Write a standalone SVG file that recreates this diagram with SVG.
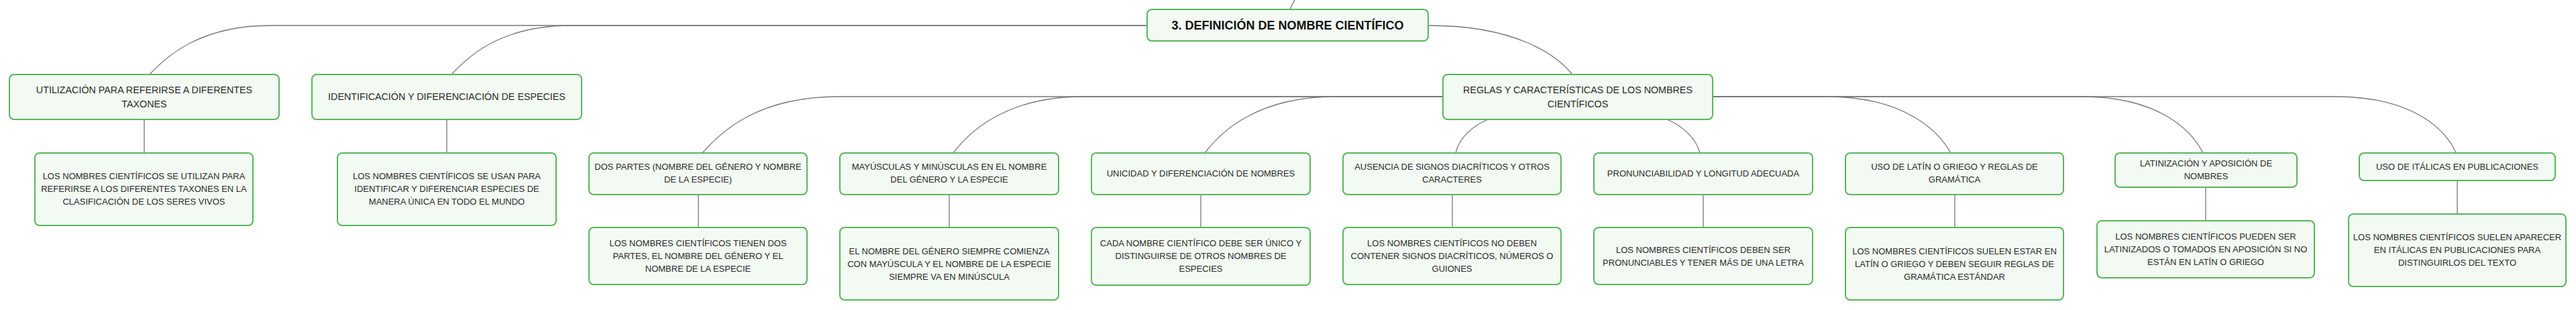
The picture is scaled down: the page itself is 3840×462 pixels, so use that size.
<svg xmlns="http://www.w3.org/2000/svg" width="3840" height="462" viewBox="0 0 3840 462">
<style>
.bg{fill:#ffffff}
.node rect{fill:#f3faf3;stroke:#58b65c;stroke-width:2}
.node text{font-family:"Liberation Sans",Arial,sans-serif;fill:#2a2a2a;text-anchor:middle}
.root text{font-size:18px;font-weight:bold;fill:#111111}
.l1 text{font-size:14.3px}
.l2 text{font-size:13px}
.leaf text{font-size:13px}
.conn path{fill:none;stroke:#777777;stroke-width:1.3}
</style>
<rect class="bg" x="0" y="0" width="3840" height="462"/>
<g id="connectors" class="conn">
<path d="M1923,14 Q1926,7 1931,-2"/>
<path d="M1710,38 H404 C300,38 250,82 224,110"/>
<path d="M1710,38 H852 C748,38 700,82 674,110"/>
<path d="M2129,38 C2260,38 2320,82 2343,110"/>
<path d="M215,178 V228"/>
<path d="M666,178 V228"/>
<path d="M2151,144 H1250 C1130,144 1075,196 1047,228"/>
<path d="M2151,144 H1615 C1500,144 1445,196 1421,228"/>
<path d="M2151,144 H1990 C1875,144 1820,196 1796,228"/>
<path d="M2218,178 C2195,188 2175,205 2170,228"/>
<path d="M2485,178 C2508,188 2528,205 2534,228"/>
<path d="M2553,144 H2723 C2840,144 2890,196 2908,228"/>
<path d="M2553,144 H3103 C3220,144 3268,196 3284,228"/>
<path d="M2553,144 H3482 C3600,144 3648,196 3661,228"/>
<path d="M1041,290 V339"/>
<path d="M1415,290 V339"/>
<path d="M1790,290 V339"/>
<path d="M2165,290 V339"/>
<path d="M2539,290 V339"/>
<path d="M2914,290 V339"/>
<path d="M3288,279 V329"/>
<path d="M3663,269 V319"/>
</g>
<g id="n-root" class="node root">
<rect x="1710" y="14" width="419" height="47" rx="7"/>
<text x="1919.5" y="43.5">3. DEFINICIÓN DE NOMBRE CIENTÍFICO</text>
</g>
<g id="n-utilizacion" class="node l1">
<rect x="14" y="111" width="402" height="67" rx="7"/>
<text x="215" y="139">UTILIZACIÓN PARA REFERIRSE A DIFERENTES</text>
<text x="215" y="160">TAXONES</text>
</g>
<g id="n-utilizacion-desc" class="node leaf">
<rect x="52" y="228" width="325" height="108" rx="7"/>
<text x="214.5" y="266.6">LOS NOMBRES CIENTÍFICOS SE UTILIZAN PARA</text>
<text x="214.5" y="285.6">REFERIRSE A LOS DIFERENTES TAXONES EN LA</text>
<text x="214.5" y="304.6">CLASIFICACIÓN DE LOS SERES VIVOS</text>
</g>
<g id="n-identificacion" class="node l1">
<rect x="465" y="111" width="402" height="67" rx="7"/>
<text x="666" y="149">IDENTIFICACIÓN Y DIFERENCIACIÓN DE ESPECIES</text>
</g>
<g id="n-identificacion-desc" class="node leaf">
<rect x="503" y="228" width="326" height="108" rx="7"/>
<text x="666" y="266.6">LOS NOMBRES CIENTÍFICOS SE USAN PARA</text>
<text x="666" y="285.6">IDENTIFICAR Y DIFERENCIAR ESPECIES DE</text>
<text x="666" y="304.6">MANERA ÚNICA EN TODO EL MUNDO</text>
</g>
<g id="n-reglas" class="node l1">
<rect x="2151" y="111" width="402" height="67" rx="7"/>
<text x="2352" y="139">REGLAS Y CARACTERÍSTICAS DE LOS NOMBRES</text>
<text x="2352" y="160">CIENTÍFICOS</text>
</g>
<g id="n-dospartes" class="node l2">
<rect x="878" y="228" width="325" height="62" rx="7"/>
<text x="1040.5" y="252.6">DOS PARTES (NOMBRE DEL GÉNERO Y NOMBRE</text>
<text x="1040.5" y="271.6">DE LA ESPECIE)</text>
</g>
<g id="n-dospartes-desc" class="node leaf">
<rect x="878" y="339" width="325" height="85" rx="7"/>
<text x="1040.5" y="366.6">LOS NOMBRES CIENTÍFICOS TIENEN DOS</text>
<text x="1040.5" y="385.6">PARTES, EL NOMBRE DEL GÉNERO Y EL</text>
<text x="1040.5" y="404.6">NOMBRE DE LA ESPECIE</text>
</g>
<g id="n-mayusculas" class="node l2">
<rect x="1252" y="228" width="326" height="62" rx="7"/>
<text x="1415" y="252.6">MAYÚSCULAS Y MINÚSCULAS EN EL NOMBRE</text>
<text x="1415" y="271.6">DEL GÉNERO Y LA ESPECIE</text>
</g>
<g id="n-mayusculas-desc" class="node leaf">
<rect x="1252" y="339" width="326" height="108" rx="7"/>
<text x="1415" y="378.6">EL NOMBRE DEL GÉNERO SIEMPRE COMIENZA</text>
<text x="1415" y="397.6">CON MAYÚSCULA Y EL NOMBRE DE LA ESPECIE</text>
<text x="1415" y="416.6">SIEMPRE VA EN MINÚSCULA</text>
</g>
<g id="n-unicidad" class="node l2">
<rect x="1627" y="228" width="326" height="62" rx="7"/>
<text x="1790" y="262.6">UNICIDAD Y DIFERENCIACIÓN DE NOMBRES</text>
</g>
<g id="n-unicidad-desc" class="node leaf">
<rect x="1627" y="339" width="326" height="86" rx="7"/>
<text x="1790" y="366.6">CADA NOMBRE CIENTÍFICO DEBE SER ÚNICO Y</text>
<text x="1790" y="385.6">DISTINGUIRSE DE OTROS NOMBRES DE</text>
<text x="1790" y="404.6">ESPECIES</text>
</g>
<g id="n-ausencia" class="node l2">
<rect x="2002" y="228" width="325" height="62" rx="7"/>
<text x="2164.5" y="252.6">AUSENCIA DE SIGNOS DIACRÍTICOS Y OTROS</text>
<text x="2164.5" y="271.6">CARACTERES</text>
</g>
<g id="n-ausencia-desc" class="node leaf">
<rect x="2002" y="339" width="325" height="85" rx="7"/>
<text x="2164.5" y="366.6">LOS NOMBRES CIENTÍFICOS NO DEBEN</text>
<text x="2164.5" y="385.6">CONTENER SIGNOS DIACRÍTICOS, NÚMEROS O</text>
<text x="2164.5" y="404.6">GUIONES</text>
</g>
<g id="n-pronunciabilidad" class="node l2">
<rect x="2376" y="228" width="326" height="62" rx="7"/>
<text x="2539" y="262.6">PRONUNCIABILIDAD Y LONGITUD ADECUADA</text>
</g>
<g id="n-pronunciabilidad-desc" class="node leaf">
<rect x="2376" y="339" width="326" height="85" rx="7"/>
<text x="2539" y="376.6">LOS NOMBRES CIENTÍFICOS DEBEN SER</text>
<text x="2539" y="395.6">PRONUNCIABLES Y TENER MÁS DE UNA LETRA</text>
</g>
<g id="n-latin" class="node l2">
<rect x="2751" y="228" width="325" height="62" rx="7"/>
<text x="2913.5" y="252.6">USO DE LATÍN O GRIEGO Y REGLAS DE</text>
<text x="2913.5" y="271.6">GRAMÁTICA</text>
</g>
<g id="n-latin-desc" class="node leaf">
<rect x="2751" y="339" width="325" height="108" rx="7"/>
<text x="2913.5" y="378.6">LOS NOMBRES CIENTÍFICOS SUELEN ESTAR EN</text>
<text x="2913.5" y="397.6">LATÍN O GRIEGO Y DEBEN SEGUIR REGLAS DE</text>
<text x="2913.5" y="416.6">GRAMÁTICA ESTÁNDAR</text>
</g>
<g id="n-latinizacion" class="node l2">
<rect x="3153" y="228" width="271" height="51" rx="7"/>
<text x="3288.5" y="247.6">LATINIZACIÓN Y APOSICIÓN DE</text>
<text x="3288.5" y="266.6">NOMBRES</text>
</g>
<g id="n-latinizacion-desc" class="node leaf">
<rect x="3126" y="329" width="324" height="85" rx="7"/>
<text x="3288" y="356.6">LOS NOMBRES CIENTÍFICOS PUEDEN SER</text>
<text x="3288" y="375.6">LATINIZADOS O TOMADOS EN APOSICIÓN SI NO</text>
<text x="3288" y="394.6">ESTÁN EN LATÍN O GRIEGO</text>
</g>
<g id="n-italicas" class="node l2">
<rect x="3517" y="228" width="292" height="41" rx="7"/>
<text x="3663" y="252.6">USO DE ITÁLICAS EN PUBLICACIONES</text>
</g>
<g id="n-italicas-desc" class="node leaf">
<rect x="3501" y="319" width="324" height="108" rx="7"/>
<text x="3663" y="357.6">LOS NOMBRES CIENTÍFICOS SUELEN APARECER</text>
<text x="3663" y="376.6">EN ITÁLICAS EN PUBLICACIONES PARA</text>
<text x="3663" y="395.6">DISTINGUIRLOS DEL TEXTO</text>
</g>
</svg>
